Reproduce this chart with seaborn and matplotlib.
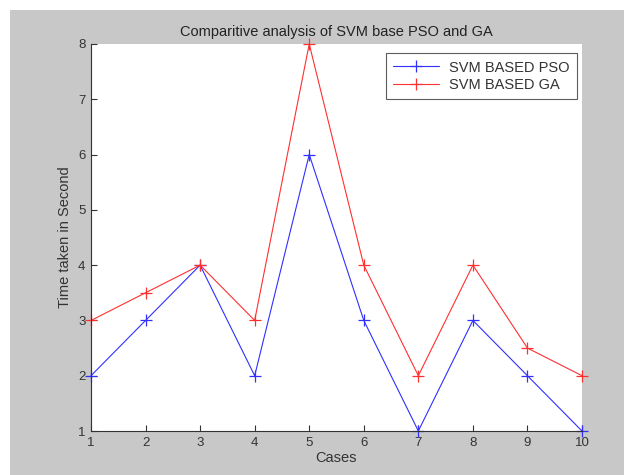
import matplotlib
matplotlib.use("Agg")
import matplotlib.pyplot as plt
import seaborn as sns
import pandas as pd
from matplotlib.patches import Rectangle

cases = [1, 2, 3, 4, 5, 6, 7, 8, 9, 10]
pso_time = [2, 3, 4, 2, 6, 3, 1, 3, 2, 1]
ga_time = [3, 3.5, 4, 3, 8, 4, 2, 4, 2.5, 2]
series_names = ["SVM BASED PSO", "SVM BASED GA"]

df = pd.DataFrame({
    "Cases": cases * 2,
    "Time": pso_time + ga_time,
    "Series": [series_names[0]] * len(cases) + [series_names[1]] * len(cases),
})

sns.set_style("ticks")
plt.rcParams["font.family"] = ["Liberation Sans", "DejaVu Sans"]

fig = plt.figure(figsize=(6.24, 4.75), dpi=100, facecolor="white")
fig.patches.append(Rectangle((10 / 624, 0), 1, 465 / 475, transform=fig.transFigure,
                             facecolor="#c8c8c8", edgecolor="none", zorder=-10))
ax = fig.add_axes([91 / 624, 44 / 475, 491 / 624, 387 / 475])
ax.set_facecolor("white")

sns.lineplot(data=df, x="Cases", y="Time", hue="Series",
             palette={series_names[0]: "#3030ff", series_names[1]: "#ff3030"},
             marker="+", markersize=8, markeredgewidth=0.9, linewidth=0.8,
             ax=ax)
for line in ax.lines:
    line.set_markeredgecolor(line.get_color())
    line.set_clip_on(False)

ax.set_xlim(1, 10)
ax.set_ylim(1, 8)
ax.set_xticks(cases)
ax.set_yticks(range(1, 9))
ax.tick_params(direction="in", length=4, labelsize=9.5, colors="#333333", width=0.8, pad=4)
for s in ["top", "right"]:
    ax.spines[s].set_visible(False)
for s in ["left", "bottom"]:
    ax.spines[s].set_color("#333333")
    ax.spines[s].set_linewidth(0.8)

ax.set_title("Comparitive analysis of SVM base PSO and GA", fontsize=10.5, color="#222222", pad=6)
ax.set_xlabel("Cases", fontsize=10.5, color="#333333", labelpad=2)
ax.set_ylabel("Time taken in Second", fontsize=10.5, color="#333333", labelpad=4)

leg = ax.legend(loc="upper right", fontsize=10.5, frameon=True, fancybox=False,
                borderpad=0.5, handlelength=3.1, handletextpad=0.7, labelspacing=0.25,
                bbox_to_anchor=(1.004, 0.995))
leg.get_frame().set_edgecolor("#333333")
leg.get_frame().set_linewidth(0.8)
for h in leg.legend_handles:
    h.set_markeredgecolor(h.get_color())
for t in leg.get_texts():
    t.set_color("#333333")

fig.savefig("out.png", dpi=100, facecolor=fig.get_facecolor())
